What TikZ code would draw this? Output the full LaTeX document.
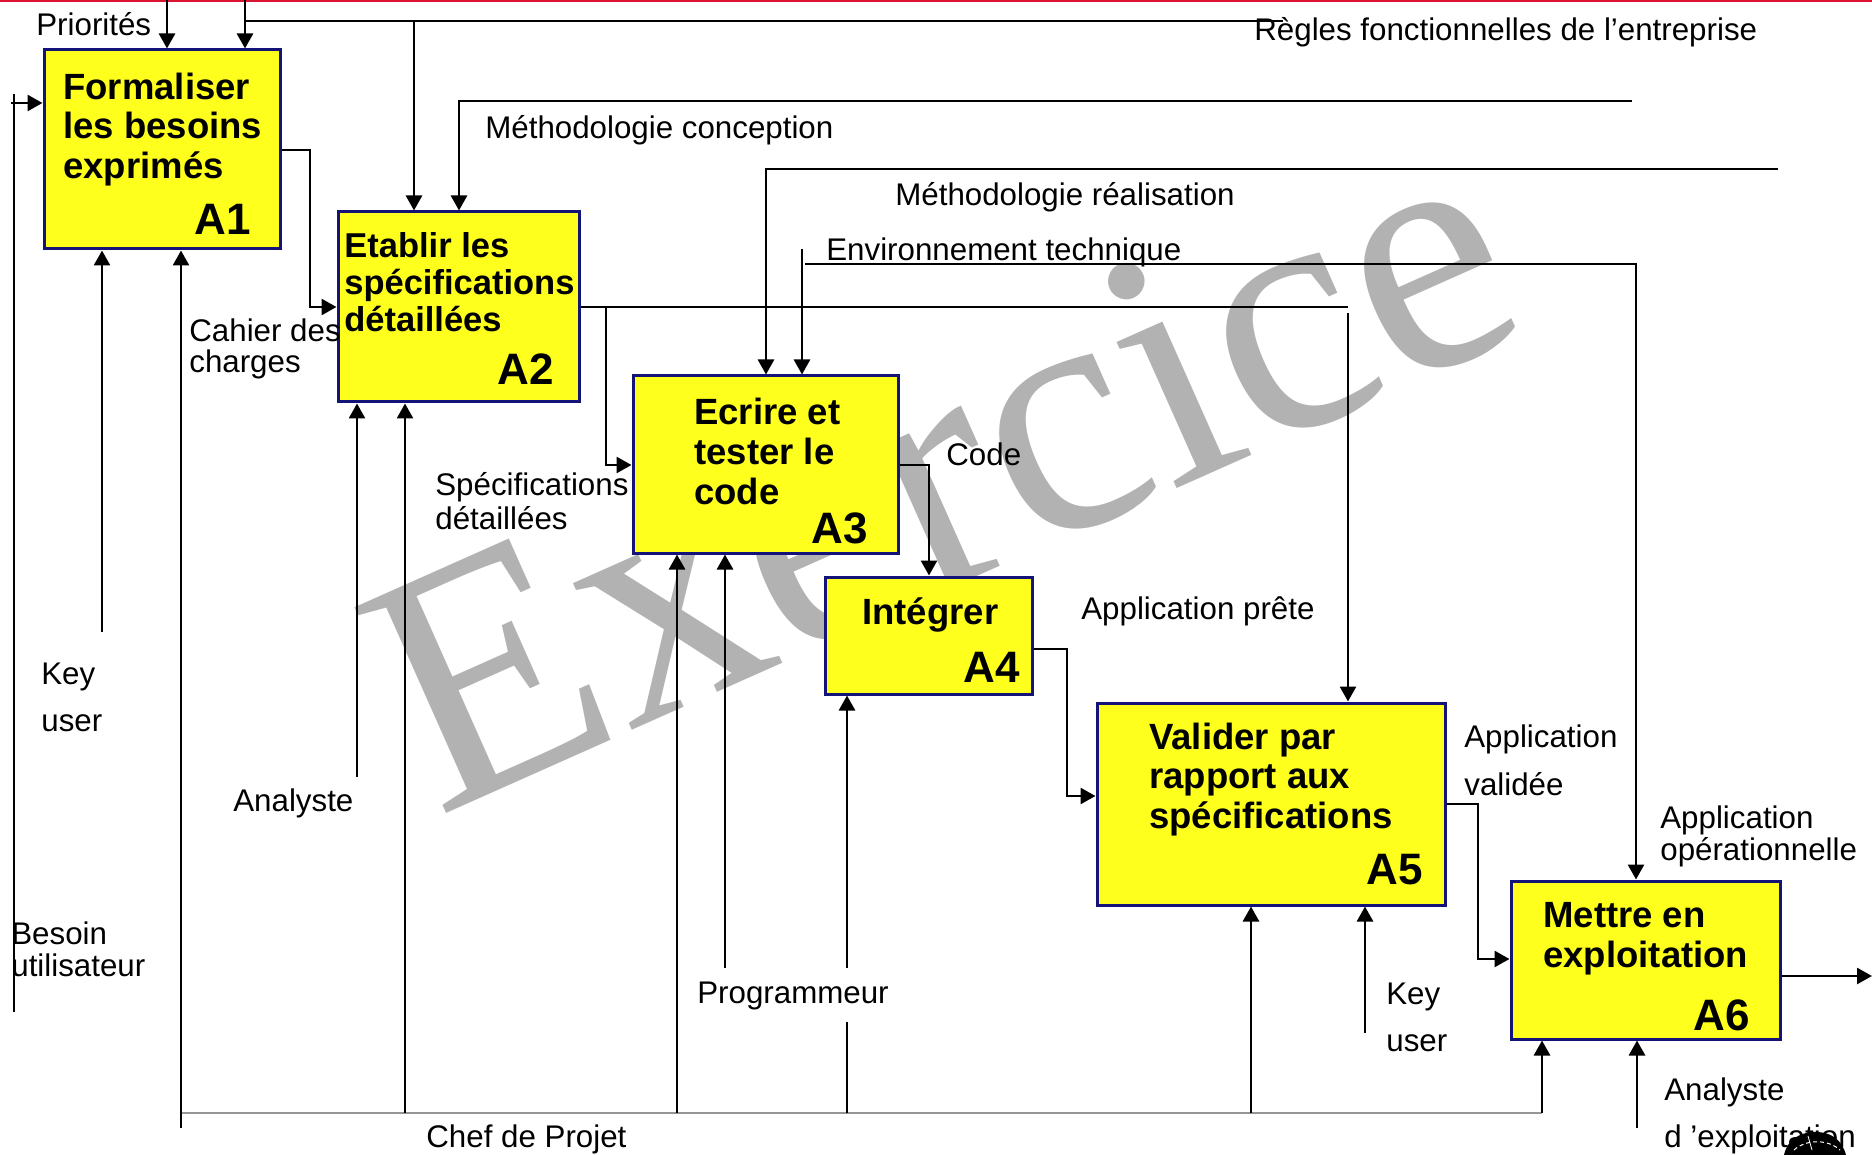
\documentclass[tikz,border=0pt]{standalone}
\usepackage{fontspec}
\setmainfont{Liberation Sans}
\newfontfamily\wmfont{Liberation Serif}
\usetikzlibrary{arrows.meta}
\definecolor{boxfill}{RGB}{255,255,30}
\definecolor{boxline}{RGB}{20,20,120}
\definecolor{wmgray}{RGB}{178,178,178}
\definecolor{mechgray}{RGB}{150,150,150}
\definecolor{topred}{RGB}{220,20,50}

\begin{document}
\begin{tikzpicture}[x=1pt,y=-1pt,
  line width=2.7pt,
  arr/.style={-{Triangle[width=16pt,length=15pt]}},
  box/.style={draw=boxline, fill=boxfill, line width=3pt, inner sep=0pt},
  boxtxt/.style={font=\bfseries\fontsize{36.5}{39.5}\selectfont, align=left, anchor=base west, inner sep=0pt},
  boxid/.style={font=\bfseries\fontsize{44}{44}\selectfont, anchor=base east, inner sep=0pt},
  lbl/.style={font=\fontsize{31.3}{32}\selectfont, align=left, anchor=base west, inner sep=0pt},
]
\fill[white] (0,0) rectangle (1872,1155);
\useasboundingbox (0,0) rectangle (1872,1155);

% background watermark
\node[font=\wmfont\fontsize{344}{344}\selectfont, text=wmgray, rotate=24,
      anchor=base west, inner sep=0pt] (wm) at (436,818) {Exercice};

% top rule
\draw[topred, line width=1.6pt] (0,0.8) -- (1872,0.8);

% activity boxes
\node[box, minimum width=236, minimum height=199] (A1) at (162,149.5) {};
\node[box, minimum width=241, minimum height=190] (A2) at (458.5,307) {};
\node[box, minimum width=265, minimum height=177] (A3) at (765.5,464.5) {};
\node[box, minimum width=207, minimum height=117] (A4) at (928.5,635.5) {};
\node[box, minimum width=348, minimum height=202] (A5) at (1271,804) {};
\node[box, minimum width=269, minimum height=158] (A6) at (1645.5,960) {};

% box texts (anchored on the baseline of their last line)
\node[boxtxt] (t1) at (62,178.5) {Formaliser\\les besoins\\exprimés};
\node[boxid] (n1) at (252,235) {A1};
\node[boxtxt, font=\bfseries\fontsize{34.5}{37}\selectfont] (t2) at (343,331.5) {Etablir les\\spécifications\\détaillées};
\node[boxid] (n2) at (555,385) {A2};
\node[boxtxt, font=\bfseries\fontsize{36.5}{40}\selectfont] (t3) at (693,504) {Ecrire et\\tester le\\code};
\node[boxid] (n3) at (869,543) {A3};
\node[boxtxt] (t4) at (861,624) {Intégrer};
\node[boxid] (n4) at (1021,682) {A4};
\node[boxtxt] (t5) at (1148,828) {Valider par\\rapport aux\\spécifications};
\node[boxid] (n5) at (1424,884) {A5};
\node[boxtxt, font=\bfseries\fontsize{36.5}{40}\selectfont] (t6) at (1542,967) {Mettre en\\exploitation};
\node[boxid] (n6) at (1751,1030) {A6};

% controls from the top
\coordinate (priTop) at (167,0);
\draw[arr] (priTop) -- (priTop |- A1.north);
\coordinate (regTop) at (245,0);
\coordinate (regEnd) at (1283,21);
\coordinate (regA2) at (414,21);
\draw[arr] (regTop) -- (regTop |- A1.north);
\draw (regEnd) -- (regTop |- regEnd);
\draw[arr] (regA2) -- (regA2 |- A2.north);

\coordinate (mcEnd) at (1632,101);
\coordinate (mcX) at (459,101);
\draw[arr] (mcEnd) -- (mcX) -- (mcX |- A2.north);

\coordinate (mrEnd) at (1778,169);
\coordinate (mrX) at (766,169);
\draw[arr] (mrEnd) -- (mrX) -- (mrX |- A3.north);

\coordinate (etTop) at (802,249);
\draw[arr] (etTop) -- (etTop |- A3.north);
\coordinate (etL) at (805,264);
\coordinate (etR) at (1636,264);
\draw[arr] (etL) -- (etR) -- (etR |- A6.north);

% input
\coordinate (buTop) at (14,94);
\coordinate (buBot) at (14,1012);
\draw (buTop) -- (buBot);
\coordinate (buIn) at (11,103);
\draw[arr] (buIn) -- (buIn -| A1.west);

% flow between activities
\coordinate (j12) at (310,150);
\coordinate (in2) at (310,307);
\draw[arr] (A1.east |- j12) -- (j12) -- (in2) -- (in2 -| A2.west);

\coordinate (o2) at (606,307);
\coordinate (o2end) at (1348,307);
\coordinate (in3) at (606,465);
\draw (A2.east |- o2) -- (o2end);
\draw[arr] (o2) -- (in3) -- (in3 -| A3.west);
\coordinate (c5) at (1348,313);
\draw[arr] (c5) -- (c5 |- A5.north);

\coordinate (j34) at (929,465);
\draw[arr] (A3.east |- j34) -- (j34) -- (j34 |- A4.north);

\coordinate (j45) at (1067,649);
\coordinate (in5) at (1067,796);
\draw[arr] (A4.east |- j45) -- (j45) -- (in5) -- (in5 -| A5.west);

\coordinate (j56) at (1478,804);
\coordinate (in6) at (1478,959);
\draw[arr] (A5.east |- j56) -- (j56) -- (in6) -- (in6 -| A6.west);

\coordinate (out6) at (1872,976);
\draw[arr] (A6.east |- out6) -- (out6);

% mechanisms
\coordinate (ku1) at (102,632);
\coordinate (cp1) at (181,1128);
\coordinate (an2) at (357,777);
\coordinate (cp2) at (405,1113);
\coordinate (cp3) at (677,1113);
\coordinate (pr3) at (725,968);
\coordinate (pr4) at (847,968);
\coordinate (cp4a) at (847,1113);
\coordinate (cp4b) at (847,1022);
\coordinate (cp5) at (1251,1113);
\coordinate (ku5) at (1365,1033);
\coordinate (cp6) at (1542,1113);
\coordinate (ad6) at (1637,1128);

\draw[mechgray, line width=2.8pt] (cp1 |- cp6) -- (cp6);
\draw[arr] (ku1) -- (ku1 |- A1.south);
\draw[arr] (cp1) -- (cp1 |- A1.south);
\draw[arr] (an2) -- (an2 |- A2.south);
\draw[arr] (cp2) -- (cp2 |- A2.south);
\draw[arr] (cp3) -- (cp3 |- A3.south);
\draw[arr] (pr3) -- (pr3 |- A3.south);
\draw[arr] (pr4) -- (pr4 |- A4.south);
\draw (cp4a) -- (cp4b);
\draw[arr] (cp5) -- (cp5 |- A5.south);
\draw[arr] (ku5) -- (ku5 |- A5.south);
\draw[arr] (cp6) -- (cp6 |- A6.south);
\draw[arr] (ad6) -- (ad6 |- A6.south);

% labels (multi-line ones anchored on their last line)
\node[lbl] (lPri) at (35,35.5) {Priorités};
\node[lbl] (lReg) at (1253,40.5) {Règles fonctionnelles de l’entreprise};
\node[lbl] (lMc) at (484,138.5) {Méthodologie conception};
\node[lbl] (lMr) at (894,205.5) {Méthodologie réalisation};
\node[lbl] (lEt) at (825,260.5) {Environnement technique};
\node[lbl, font=\fontsize{31.3}{31}\selectfont] (lCdc) at (188,373) {Cahier des\\charges};
\node[lbl, font=\fontsize{31.3}{34}\selectfont] (lSpd) at (434,529.5) {Spécifications\\détaillées};
\node[lbl] (lCode) at (945,465) {Code};
\node[lbl] (lApr) at (1080,619) {Application prête};
\node[lbl, font=\fontsize{31.3}{48}\selectfont] (lApv) at (1463,795.5) {Application\\validée};
\node[lbl, font=\fontsize{31.3}{32}\selectfont] (lApo) at (1659,860) {Application\\opérationnelle};
\node[lbl, font=\fontsize{31.3}{47}\selectfont] (lKu1) at (40,731) {Key\\user};
\node[lbl] (lAn) at (232,811) {Analyste};
\node[lbl, font=\fontsize{31.3}{32}\selectfont] (lBu) at (10,976) {Besoin\\utilisateur};
\node[lbl] (lPr) at (696,1003) {Programmeur};
\node[lbl] (lCp) at (425,1147) {Chef de Projet};
\node[lbl, font=\fontsize{31.3}{47}\selectfont] (lKu5) at (1385,1051) {Key\\user};
\node[lbl, font=\fontsize{31.3}{47}\selectfont] (lAd) at (1663,1147) {Analyste\\d ’exploitation};

% clip-art fragment in the corner
\fill[black] (1784,1155) .. controls (1788,1136) and (1806,1131) .. (1818,1132)
  .. controls (1832,1133) and (1842,1140) .. (1846,1155) -- cycle;
\draw[white, line width=1pt, dash pattern=on 4pt off 3pt] (1794,1150) .. controls (1806,1139) and (1828,1139) .. (1840,1150);
\draw[white, line width=0.8pt] (1808,1136) -- (1812,1150);
\end{tikzpicture}
\end{document}
